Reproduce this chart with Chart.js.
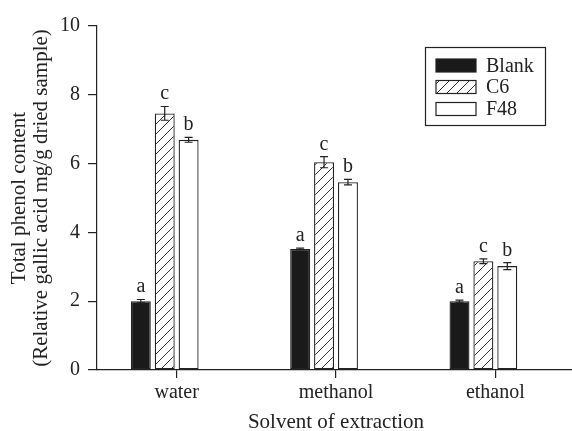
<!DOCTYPE html>
<html>
<head>
<meta charset="utf-8">
<script src="https://cdn.jsdelivr.net/npm/chart.js@4"></script>
<style>
  html, body { margin: 0; padding: 0; background: #fff; overflow: hidden; }
  #wrap { width: 572px; height: 431px; overflow: hidden; }
</style>
</head>
<body>
<div id="wrap"><canvas id="chart" width="575" height="431"></canvas></div>
<script>
// Data
const categories = ['water', 'methanol', 'ethanol'];
const seriesNames = ['Blank', 'C6', 'F48'];
const blankValues = [2.0, 3.52, 2.0];
const blankErrors = [0.05, 0.02, 0.03];
const c6Values = [7.46, 6.04, 3.16];
const c6Errors = [0.2, 0.16, 0.07];
const f48Values = [6.69, 5.46, 3.02];
const f48Errors = [0.07, 0.08, 0.1];
const blankLetters = ['a', 'a', 'a'];
const c6Letters = ['c', 'c', 'c'];
const f48Letters = ['b', 'b', 'b'];
const yTicks = [0, 2, 4, 6, 8, 10];

const FONT = "'Liberation Serif', 'DejaVu Serif', serif";
const INK = '#222';

// Hatch pattern for C6
function makeHatch() {
    const c = document.createElement('canvas');
    c.width = 10; c.height = 10;
    const g = c.getContext('2d');
    g.fillStyle = '#fff';
    g.fillRect(0, 0, 10, 10);
    g.strokeStyle = '#333';
    g.lineWidth = 1;
    g.beginPath();
    g.moveTo(-1, 11); g.lineTo(11, -1);
    g.moveTo(-1, 1); g.lineTo(1, -1);
    g.moveTo(9, 11); g.lineTo(11, 9);
    g.stroke();
    return document.getElementById('chart').getContext('2d').createPattern(c, 'repeat');
}
const hatch = makeHatch();
const fills = ['#1a1a1a', hatch, '#fff'];
const errors = [blankErrors, c6Errors, f48Errors];
const letters = [blankLetters, c6Letters, f48Letters];

// Error bars and letters above bars
const errorBarPlugin = {
    id: 'errorBars',
    afterDatasetsDraw(chart) {
        const ctx = chart.ctx;
        const y = chart.scales.y;
        ctx.save();
        ctx.strokeStyle = INK;
        ctx.lineWidth = 1.2;
        ctx.fillStyle = INK;
        ctx.font = '20px ' + FONT;
        ctx.textAlign = 'center';
        ctx.textBaseline = 'alphabetic';
        for (let d = 0; d < 3; d++) {
            const meta = chart.getDatasetMeta(d);
            const vals = chart.data.datasets[d].data;
            meta.data.forEach((bar, i) => {
                const x = bar.x;
                const top = y.getPixelForValue(vals[i] + errors[d][i]);
                const bot = y.getPixelForValue(vals[i] - errors[d][i]);
                ctx.beginPath();
                ctx.moveTo(x, top); ctx.lineTo(x, bot);
                ctx.moveTo(x - 4, top); ctx.lineTo(x + 4, top);
                ctx.moveTo(x - 4, bot); ctx.lineTo(x + 4, bot);
                ctx.stroke();
                ctx.fillText(letters[d][i], x, top - 7);
            });
        }
        ctx.restore();
    }
};

// Boxed legend in the upper right
const boxLegendPlugin = {
    id: 'boxLegend',
    afterDraw(chart) {
        const ctx = chart.ctx;
        ctx.save();
        ctx.strokeStyle = INK;
        ctx.lineWidth = 1.2;
        ctx.strokeRect(425.5, 47.5, 120, 78);
        ctx.font = '20px ' + FONT;
        ctx.textBaseline = 'middle';
        ctx.textAlign = 'left';
        const rows = [65.5, 87, 109];
        seriesNames.forEach((name, i) => {
            ctx.fillStyle = fills[i];
            ctx.fillRect(436, rows[i] - 6.5, 40, 13);
            ctx.strokeRect(436, rows[i] - 6.5, 40, 13);
            ctx.fillStyle = INK;
            ctx.fillText(name, 486, rows[i] + 1);
        });
        ctx.restore();
    }
};

new Chart(document.getElementById('chart'), {
    type: 'bar',
    data: {
        labels: categories,
        datasets: [
            { label: seriesNames[0], data: blankValues, backgroundColor: fills[0] },
            { label: seriesNames[1], data: c6Values, backgroundColor: fills[1] },
            { label: seriesNames[2], data: f48Values, backgroundColor: fills[2] },
            { label: '', data: [null, null, null], backgroundColor: 'rgba(0,0,0,0)' }
        ].map(ds => Object.assign(ds, {
            borderColor: INK,
            borderWidth: 1.3,
            borderSkipped: false,
            categoryPercentage: 0.6,
            barPercentage: 0.835
        }))
    },
    options: {
        responsive: false,
        animation: false,
        layout: { padding: { top: 26, right: 0, bottom: 0, left: 0 } },
        plugins: { legend: { display: false }, tooltip: { enabled: false } },
        scales: {
            x: {
                grid: { drawOnChartArea: false, offset: false, tickLength: 8, color: INK, lineWidth: 1.2 },
                border: { color: INK, width: 1.2 },
                ticks: { color: INK, font: { family: FONT, size: 20 }, padding: 3 },
                title: {
                    display: true,
                    text: 'Solvent of extraction',
                    color: INK,
                    font: { family: FONT, size: 21, lineHeight: 1.05 },
                    padding: { top: 0, bottom: -3 }
                },
                afterFit(scale) { scale.height = 61; }
            },
            y: {
                min: 0,
                max: 10,
                afterBuildTicks(scale) { scale.ticks = yTicks.map(v => ({ value: v })); },
                grid: { drawOnChartArea: false, tickLength: 9, color: INK, lineWidth: 1.2 },
                border: { color: INK, width: 1.2 },
                ticks: { color: INK, font: { family: FONT, size: 20 }, padding: 8 },
                title: {
                    display: true,
                    text: ['Total phenol content', '(Relative gallic acid mg/g dried sample)'],
                    color: INK,
                    font: { family: FONT, size: 21, lineHeight: 1.05 },
                    padding: { top: 8, bottom: 0 }
                },
                afterFit(scale) { scale.width = 97; }
            }
        }
    },
    plugins: [errorBarPlugin, boxLegendPlugin]
});
</script>
</body>
</html>
